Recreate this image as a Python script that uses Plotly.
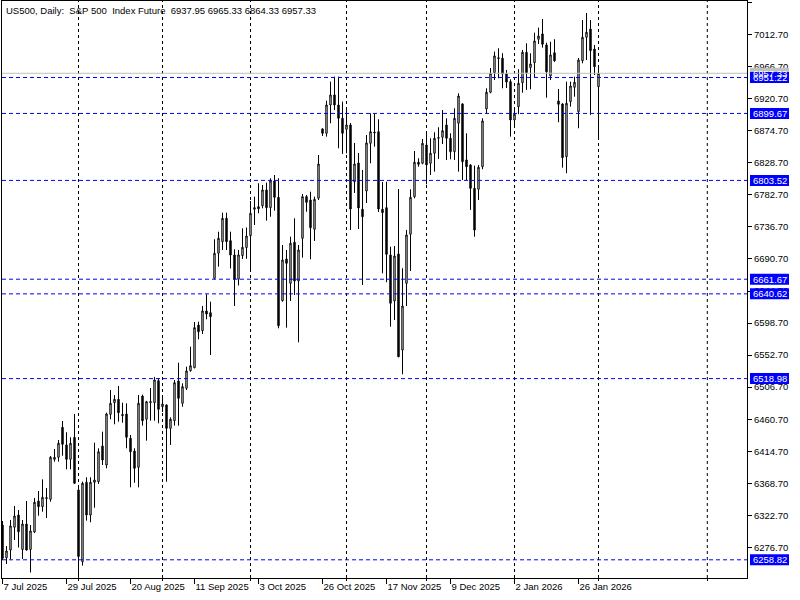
import plotly.graph_objects as go

# ---- data ----
opens = [6308.8, 6261.8, 6272.9, 6305.5, 6323.1, 6273.6, 6310.2, 6273.6, 6298.8, 6343.2,
         6335.1, 6346.6, 6345.7, 6403.1, 6406.0, 6449.1, 6423.7, 6403.1, 6434.7, 6359.0,
         6256.1, 6370.1, 6323.1, 6370.1, 6371.0, 6422.2, 6394.9, 6467.7, 6484.4, 6489.3,
         6467.4, 6468.2, 6433.3, 6415.0, 6391.6, 6494.0, 6460.6, 6484.4, 6484.4, 6516.0,
         6478.6, 6481.1, 6447.6, 6458.5, 6515.6, 6483.5, 6505.1, 6530.3, 6534.6, 6595.9,
         6587.8, 6616.1, 6613.6, 6663.0, 6698.9, 6715.6, 6749.1, 6717.0, 6696.5, 6661.6,
         6695.7, 6707.2, 6724.2, 6762.1, 6765.8, 6767.2, 6789.8, 6764.4, 6802.7, 6779.3,
         6630.8, 6690.7, 6655.8, 6714.7, 6659.1, 6720.4, 6780.2, 6775.4, 6733.4, 6777.9,
         6877.4, 6871.2, 6911.8, 6926.2, 6911.8, 6892.7, 6876.9, 6883.1, 6801.7, 6828.5,
         6762.1, 6788.3, 6856.8, 6873.0, 6873.5, 6762.1, 6764.4, 6696.5, 6630.4, 6697.9,
         6560.1, 6655.8, 6726.2, 6780.2, 6829.6, 6828.1, 6854.4, 6828.1, 6842.5, 6864.0,
         6865.5, 6883.1, 6864.0, 6844.8, 6885.6, 6913.3, 6832.9, 6825.7, 6792.2, 6790.8,
         6823.2, 6906.1, 6930.1, 6958.2, 6978.5, 6978.9, 6956.3, 6945.3, 6890.3, 6909.4,
         6943.8, 6987.5, 6965.4, 6972.6, 7006.2, 7013.8, 6998.0, 6953.5, 6986.9, 6917.6,
         6913.3, 6837.6, 6916.6, 6937.2, 6902.2, 6975.4, 7009.0, 7020.9, 6992.2, 6937.95]
highs = [6314.5, 6278.6, 6316.0, 6336.1, 6330.3, 6316.0, 6343.2, 6308.8, 6347.6, 6357.6,
         6374.4, 6361.9, 6407.9, 6417.9, 6430.8, 6458.1, 6441.9, 6434.7, 6468.2, 6361.9,
         6371.0, 6377.3, 6377.3, 6427.0, 6418.9, 6442.8, 6470.0, 6502.6, 6495.4, 6508.4,
         6484.4, 6483.5, 6438.0, 6418.9, 6495.4, 6496.0, 6487.0, 6505.5, 6521.3, 6519.4,
         6491.1, 6482.0, 6463.4, 6517.0, 6541.8, 6512.2, 6536.1, 6564.8, 6600.3, 6600.7,
         6623.2, 6640.0, 6629.4, 6719.0, 6729.9, 6757.2, 6757.2, 6729.9, 6704.6, 6703.6,
         6734.8, 6735.9, 6774.0, 6780.2, 6799.4, 6797.0, 6800.3, 6806.6, 6811.3, 6806.6,
         6710.8, 6703.6, 6722.7, 6749.1, 6710.8, 6784.0, 6782.6, 6787.3, 6780.2, 6840.0,
         6878.4, 6918.0, 6945.3, 6952.5, 6952.5, 6916.6, 6907.1, 6886.0, 6857.3, 6842.9,
         6818.5, 6868.8, 6899.9, 6899.9, 6891.3, 6801.3, 6801.7, 6708.4, 6709.4, 6791.2,
         6677.4, 6732.4, 6790.8, 6845.8, 6835.3, 6863.0, 6871.2, 6864.0, 6872.6, 6879.8,
         6904.6, 6892.7, 6871.2, 6907.1, 6928.6, 6914.3, 6871.2, 6826.7, 6824.7, 6825.7,
         6892.7, 6935.8, 6965.0, 6988.4, 6993.2, 6986.1, 6962.1, 6948.7, 6905.0, 6963.1,
         6990.8, 7000.4, 6986.1, 7015.6, 7022.8, 7035.3, 7001.3, 7002.7, 7006.2, 6934.8,
         6914.3, 6945.3, 6945.3, 6952.5, 6979.3, 7033.9, 7043.9, 7033.9, 6998.0, 6965.33]
lows = [6258.5, 6252.8, 6259.5, 6287.3, 6276.5, 6260.0, 6271.9, 6240.6, 6297.3, 6322.1,
        6327.9, 6318.8, 6342.2, 6399.7, 6399.7, 6408.3, 6388.8, 6388.8, 6367.7, 6237.0,
        6250.4, 6315.0, 6312.7, 6333.6, 6367.7, 6394.9, 6390.2, 6460.6, 6453.4, 6457.1,
        6455.7, 6418.9, 6362.9, 6369.5, 6362.9, 6451.4, 6429.8, 6458.5, 6458.5, 6454.8,
        6471.0, 6371.0, 6423.7, 6451.4, 6451.4, 6478.6, 6502.6, 6528.9, 6533.8, 6575.4,
        6583.0, 6604.1, 6552.9, 6661.6, 6679.7, 6703.6, 6703.6, 6677.1, 6623.2, 6652.7,
        6690.7, 6691.1, 6676.4, 6739.5, 6756.3, 6763.5, 6745.7, 6751.4, 6760.1, 6591.2,
        6629.5, 6592.1, 6630.4, 6639.0, 6571.1, 6692.6, 6758.6, 6690.3, 6716.6, 6775.4,
        6867.3, 6866.3, 6885.6, 6904.6, 6849.7, 6841.5, 6842.5, 6732.4, 6785.5, 6733.8,
        6653.4, 6771.1, 6828.1, 6852.0, 6758.2, 6670.2, 6657.3, 6593.5, 6603.1, 6549.6,
        6525.2, 6623.2, 6673.5, 6777.9, 6823.2, 6826.7, 6798.0, 6811.3, 6816.1, 6834.3,
        6855.8, 6832.9, 6833.9, 6832.9, 6816.1, 6804.1, 6804.1, 6761.1, 6722.7, 6775.4,
        6819.5, 6899.9, 6928.6, 6947.7, 6950.2, 6935.8, 6936.2, 6866.3, 6880.0, 6898.5,
        6929.5, 6933.4, 6934.4, 6951.0, 6999.4, 6994.1, 6922.3, 6947.7, 6973.6, 6887.0,
        6821.8, 6813.8, 6909.4, 6923.7, 6878.4, 6971.7, 6976.4, 6897.5, 6954.9, 6864.33]
closes = [6261.0, 6271.5, 6307.4, 6321.7, 6299.2, 6310.2, 6272.9, 6300.2, 6341.4, 6335.1,
          6348.6, 6348.0, 6406.0, 6406.0, 6426.1, 6424.7, 6403.1, 6426.1, 6368.7, 6263.6,
          6368.7, 6323.1, 6370.1, 6373.4, 6414.0, 6402.1, 6468.2, 6483.5, 6489.3, 6470.0,
          6466.0, 6434.7, 6414.0, 6390.2, 6483.5, 6458.5, 6485.8, 6485.8, 6517.0, 6474.9,
          6482.5, 6447.6, 6460.6, 6513.1, 6490.7, 6507.4, 6529.9, 6537.5, 6592.1, 6586.3,
          6616.1, 6611.7, 6607.9, 6698.9, 6720.4, 6749.1, 6715.6, 6696.5, 6661.6, 6696.5,
          6707.5, 6723.7, 6756.3, 6764.4, 6762.9, 6789.8, 6764.4, 6802.7, 6779.3, 6594.9,
          6689.3, 6684.5, 6713.3, 6659.1, 6703.6, 6780.2, 6772.1, 6735.7, 6776.4, 6827.1,
          6871.2, 6911.8, 6926.2, 6911.8, 6892.7, 6871.2, 6883.1, 6762.5, 6827.1, 6763.9,
          6751.4, 6857.3, 6873.5, 6872.0, 6762.5, 6757.2, 6697.5, 6627.1, 6695.0, 6550.4,
          6623.2, 6725.2, 6779.3, 6829.6, 6826.7, 6856.8, 6825.7, 6842.5, 6864.0, 6864.9,
          6874.9, 6864.0, 6844.8, 6892.7, 6924.7, 6830.4, 6823.2, 6792.2, 6732.4, 6822.4,
          6888.9, 6930.1, 6957.3, 6982.2, 6979.5, 6956.3, 6944.8, 6890.3, 6898.5, 6943.0,
          6987.5, 6958.2, 6970.7, 7003.7, 7010.9, 6999.0, 6959.6, 6983.6, 6975.4, 6912.8,
          6836.2, 6914.3, 6939.1, 6944.4, 6976.4, 7009.0, 7016.2, 6989.8, 6966.8, 6957.33]

date_labels = ["7 Jul 2025", "29 Jul 2025", "20 Aug 2025", "11 Sep 2025", "3 Oct 2025",
               "26 Oct 2025", "17 Nov 2025", "9 Dec 2025", "2 Jan 2026", "26 Jan 2026"]
label_bars = [0, 16, 32, 48, 64, 80, 96, 112, 128, 144]
separator_bars = [19, 40, 62, 86, 106, 128, 149, 176.2]
level_prices = [6951.22, 6899.67, 6803.52, 6661.67, 6640.62, 6518.98, 6258.82]
bid_price = 6957.33
price_ticks = [6276.70, 6322.70, 6368.70, 6414.70, 6460.70, 6506.70, 6552.70, 6598.70, 6644.70,
               6690.70, 6736.70, 6782.70, 6828.70, 6874.70, 6920.70, 6966.70, 7012.70, 7058.70]
title_text = ("US500,\u00a0Daily:\u00a0\u00a0S&amp;P\u00a0500\u00a0\u00a0Index\u00a0Future\u00a0\u00a0"
              "6937.95\u00a06965.33\u00a06864.33\u00a06957.33")

# ---- layout constants ----
W, H = 800, 600
ML, MR, MT, MB = 2, 53, 1, 22
PW, PH = W - ML - MR, H - MT - MB
Y_MIN, Y_MAX = 6232.7, 7061.1
X_MIN, X_MAX = -0.125, 186.125
FONT = "Liberation Sans, Arial, sans-serif"
FS = 9.5
BLUE = "rgb(0,0,255)"

x = list(range(len(opens)))

fig = go.Figure()

# bid line (below candles)
fig.add_trace(go.Scatter(x=[X_MIN, X_MAX], y=[bid_price, bid_price], mode="lines",
                         line=dict(color="#C0C0C0", width=1), hoverinfo="skip"))

fig.add_trace(go.Candlestick(
    x=x, open=opens, high=highs, low=lows, close=closes,
    increasing=dict(line=dict(color="black", width=1), fillcolor="white"),
    decreasing=dict(line=dict(color="black", width=1), fillcolor="black"),
    whiskerwidth=0, hoverinfo="skip"))

# horizontal price levels
for p in level_prices:
    fig.add_trace(go.Scatter(x=[X_MIN, X_MAX], y=[p, p], mode="lines",
                             line=dict(color=BLUE, width=1, dash="4px,3px"), hoverinfo="skip"))

shapes = []
for b in separator_bars:
    shapes.append(dict(type="line", xref="x", yref="paper", x0=b, x1=b, y0=0, y1=1,
                       line=dict(color="black", width=1, dash="3px,3px"), layer="below"))

annotations = []
box_x0 = (750 - ML) / PW
box_x1 = (789 - ML) / PW
box_h = 11 / PH


def ypaper(p):
    return (p - Y_MIN) / (Y_MAX - Y_MIN)


def price_label(p, bg):
    yc = ypaper(p)
    shapes.append(dict(type="rect", xref="paper", yref="paper", x0=box_x0, x1=box_x1,
                       y0=yc - box_h / 2, y1=yc + box_h / 2, fillcolor=bg,
                       line=dict(width=0), layer="above"))
    annotations.append(dict(xref="paper", yref="paper", x=(box_x0 + box_x1) / 2, y=yc,
                            xanchor="center", yanchor="middle", text=f"{p:.2f}", showarrow=False,
                            font=dict(family=FONT, size=FS, color="white")))


price_label(bid_price, "#C0C0C0")
for p in level_prices:
    price_label(p, BLUE)

annotations.append(dict(xref="paper", yref="paper", x=(4 - ML) / PW, y=1, xanchor="left",
                        yanchor="top", yshift=-2, text=title_text, showarrow=False,
                        font=dict(family=FONT, size=FS, color="black")))

fig.update_layout(
    width=W, height=H, margin=dict(l=ML, r=MR, t=MT, b=MB, autoexpand=False),
    paper_bgcolor="white", plot_bgcolor="white", showlegend=False, boxgap=0.5,
    font=dict(family=FONT, size=FS, color="black"),
    shapes=shapes, annotations=annotations)

fig.update_xaxes(
    range=[X_MIN, X_MAX], rangeslider_visible=False, showgrid=False, zeroline=False,
    showline=True, linecolor="black", linewidth=1, mirror=True, automargin=False,
    tickmode="array", tickvals=label_bars, ticktext=date_labels,
    ticks="outside", ticklen=5, tickcolor="black", tickwidth=1,
    ticklabelposition="outside right",
    minor=dict(tickmode="array", tickvals=separator_bars, ticks="outside", ticklen=2,
               tickcolor="black", showgrid=False))

fig.update_yaxes(
    side="right", range=[Y_MIN, Y_MAX], showgrid=False, zeroline=False,
    showline=True, linecolor="black", linewidth=1, mirror=True, automargin=False,
    tickmode="array", tickvals=price_ticks, ticktext=[f"{v:.2f}" for v in price_ticks],
    ticks="outside", ticklen=4, tickcolor="black", tickwidth=1)

fig.write_html("out.html", config={"displayModeBar": False},
               post_script="document.body.style.margin='0px';document.body.style.padding='0px';")
